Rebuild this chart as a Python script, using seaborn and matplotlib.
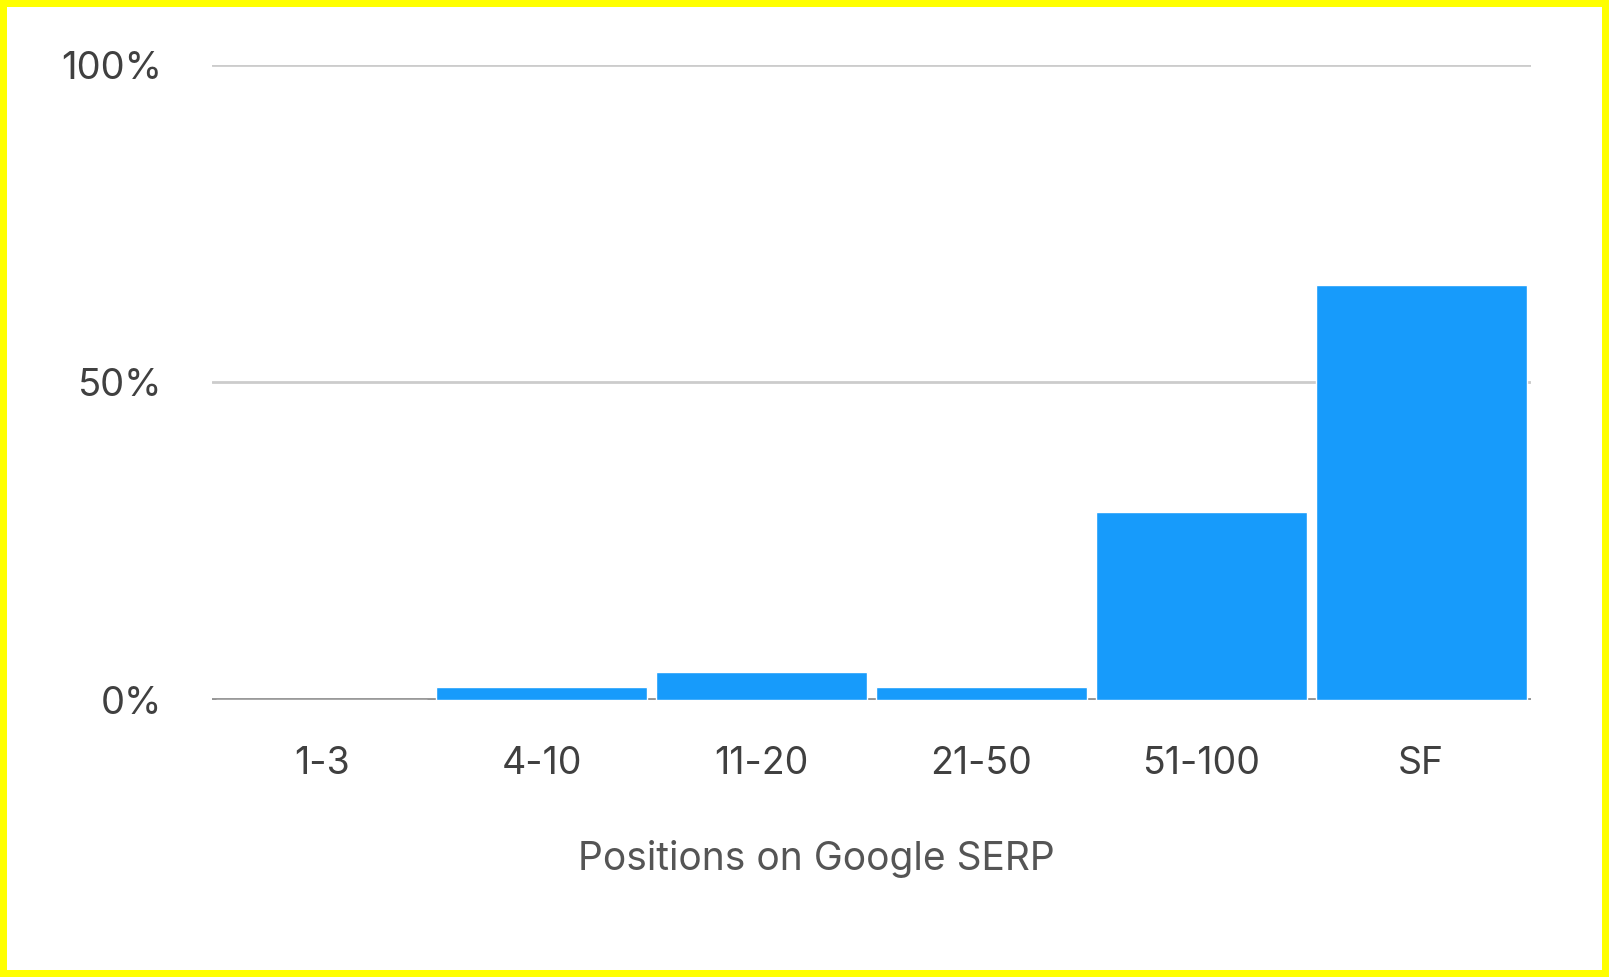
import matplotlib
matplotlib.use("Agg")
import matplotlib.pyplot as plt
import seaborn as sns
import pandas as pd

positions = ["1-3", "4-10", "11-20", "21-50", "51-100", "SF"]
share = [0.0, 2.1, 4.4, 2.1, 29.6, 65.4]
y_ticks = [0, 50, 100]
y_tick_labels = ["0%", "50%", "100%"]

df = pd.DataFrame({"position": positions, "share": share})

sns.set_style("white")
plt.rcParams["font.family"] = ["Inter", "DejaVu Sans"]

fig = plt.figure(figsize=(16.09, 9.77), dpi=100)
fig.patch.set_facecolor("white")
fig.patch.set_edgecolor("#ffff00")
fig.patch.set_linewidth(10)
ax = fig.add_axes([0.1318, 0.2835, 0.8197, 0.65])

for t in y_ticks[1:]:
    ax.axhline(t, color="#cccccc", linewidth=2, zorder=0)
ax.axhline(0, color="#959595", linewidth=2.8, zorder=1)

sns.barplot(data=df, x="position", y="share", color="#179bfb", saturation=1,
            width=0.96, ax=ax, zorder=2)

ax.set_xlim(-0.5, len(positions) - 0.5)
ax.set_ylim(0, 100)
ax.set_yticks(y_ticks)
ax.set_yticklabels(y_tick_labels)
ax.set_ylabel("")
ax.set_xlabel("Positions on Google SERP", fontsize=28, color="#555555")
ax.xaxis.set_label_coords(0.458, -0.25)
ax.xaxis.label.set_va("center")
ax.tick_params(axis="y", length=0, pad=36, labelsize=27.5, labelcolor="#404040")
ax.tick_params(axis="x", length=0, pad=33, labelsize=27, labelcolor="#404040")
for s in ax.spines.values():
    s.set_visible(False)

fig.savefig("out.png", dpi=100)
